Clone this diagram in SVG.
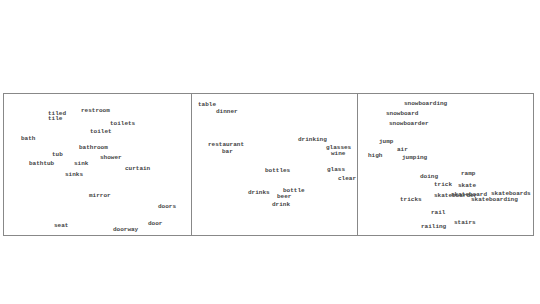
<svg xmlns="http://www.w3.org/2000/svg" width="540" height="304" viewBox="0 0 540 304">
<style>
text{font-family:"Liberation Mono","DejaVu Sans Mono",monospace;font-size:6px;font-weight:bold;fill:#444}
.frame{fill:none;stroke:#888;stroke-width:1}
</style>
<rect width="540" height="304" fill="#fff"/>
<g id="frames">
<rect class="frame" x="3.5" y="93.5" width="530" height="142"/>
<line class="frame" x1="191.5" y1="93.5" x2="191.5" y2="235.5"/>
<line class="frame" x1="357.5" y1="93.5" x2="357.5" y2="235.5"/>
</g>
<g id="panel1">
<text x="48" y="115">tiled</text>
<text x="48" y="120">tile</text>
<text x="81" y="112">restroom</text>
<text x="110" y="125">toilets</text>
<text x="90" y="133">toilet</text>
<text x="21" y="140">bath</text>
<text x="79" y="149">bathroom</text>
<text x="52" y="156">tub</text>
<text x="100" y="159">shower</text>
<text x="29" y="165">bathtub</text>
<text x="74" y="165">sink</text>
<text x="125" y="170">curtain</text>
<text x="65" y="176">sinks</text>
<text x="89" y="197">mirror</text>
<text x="158" y="208">doors</text>
<text x="54" y="227">seat</text>
<text x="148" y="225">door</text>
<text x="113" y="231">doorway</text>
</g>
<g id="panel2">
<text x="198" y="106">table</text>
<text x="216" y="113">dinner</text>
<text x="208" y="146">restaurant</text>
<text x="222" y="153">bar</text>
<text x="298" y="141">drinking</text>
<text x="326" y="149">glasses</text>
<text x="331" y="155">wine</text>
<text x="265" y="172">bottles</text>
<text x="327" y="171">glass</text>
<text x="338" y="180">clear</text>
<text x="248" y="194">drinks</text>
<text x="283" y="192">bottle</text>
<text x="277" y="198">beer</text>
<text x="272" y="206">drink</text>
</g>
<g id="panel3">
<text x="404" y="105">snowboarding</text>
<text x="386" y="115">snowboard</text>
<text x="389" y="125">snowboarder</text>
<text x="379" y="143">jump</text>
<text x="397" y="151">air</text>
<text x="368" y="157">high</text>
<text x="402" y="159">jumping</text>
<text x="420" y="178">doing</text>
<text x="434" y="186">trick</text>
<text x="461" y="175">ramp</text>
<text x="458" y="187">skate</text>
<text x="434" y="197">skateboarder</text>
<text x="451" y="196">skateboard</text>
<text x="491" y="195">skateboards</text>
<text x="471" y="201">skateboarding</text>
<text x="400" y="201">tricks</text>
<text x="431" y="214">rail</text>
<text x="421" y="228">railing</text>
<text x="454" y="224">stairs</text>
</g>
</svg>
